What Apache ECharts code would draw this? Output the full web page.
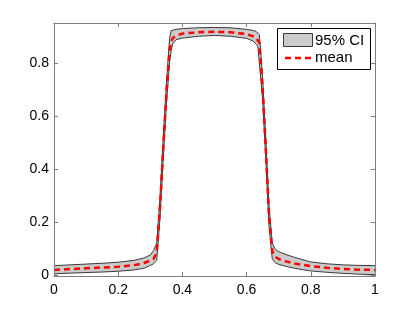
<!DOCTYPE html>
<html>
<head>
<meta charset="utf-8">
<script src="https://cdn.jsdelivr.net/npm/echarts@6/dist/echarts.min.js"></script>
<style>
html,body{margin:0;padding:0;background:#fff;}
#chart{width:415px;height:312px;}
</style>
</head>
<body>
<div id="chart"></div>
<script>
var xs =    [0, 0.05, 0.10, 0.15, 0.20, 0.25, 0.28, 0.30, 0.31, 0.32, 0.33, 0.34, 0.35, 0.36, 0.365, 0.37, 0.38, 0.40, 0.45, 0.50, 0.55, 0.60, 0.62, 0.63, 0.635, 0.64, 0.65, 0.66, 0.67, 0.68, 0.69, 0.70, 0.72, 0.75, 0.80, 0.85, 0.90, 0.95, 1.00];
var meanVals = [0.019,0.022,0.025,0.028,0.031,0.037,0.045,0.054,0.060,0.085,0.25,0.47,0.68,0.85,0.88,0.893,0.902,0.910,0.915,0.917,0.915,0.908,0.900,0.893,0.888,0.875,0.70,0.47,0.22,0.090,0.068,0.060,0.052,0.043,0.033,0.027,0.023,0.020,0.019];
var upperVals = [0.035,0.038,0.041,0.044,0.048,0.055,0.064,0.075,0.092,0.12,0.29,0.51,0.72,0.89,0.921,0.923,0.926,0.929,0.932,0.933,0.932,0.926,0.922,0.918,0.912,0.905,0.74,0.51,0.26,0.12,0.095,0.088,0.078,0.066,0.049,0.042,0.038,0.036,0.035];
var lowerVals = [0.004,0.007,0.009,0.011,0.014,0.019,0.025,0.036,0.042,0.055,0.21,0.43,0.64,0.80,0.845,0.872,0.887,0.893,0.900,0.903,0.900,0.892,0.882,0.870,0.862,0.855,0.66,0.43,0.18,0.060,0.045,0.040,0.033,0.025,0.015,0.010,0.006,0.003,0.001];
var xTicks = [0, 0.2, 0.4, 0.6, 0.8, 1];
var yTicks = [0, 0.2, 0.4, 0.6, 0.8];
var legendLabels = ['95% CI', 'mean'];

function pairs(vals){ return xs.map(function(x,i){ return [x, vals[i]]; }); }

var FONT = '"Liberation Sans", Arial, Helvetica, sans-serif';
var axisColor = '#7f7f7f';
var chart = echarts.init(document.getElementById('chart'), null, {renderer:'canvas'});
var commonX = {
  type:'value', min:0, max:1, interval:0.2, z:10,
  axisLine:{show:true, onZero:false, lineStyle:{color:axisColor, width:1}},
  axisTick:{show:true, inside:true, length:4, lineStyle:{color:axisColor}},
  splitLine:{show:false}
};
var commonY = {
  type:'value', min:-0.004, max:0.95, z:10,
  axisLine:{show:true, onZero:false, lineStyle:{color:axisColor, width:1}},
  axisTick:{show:true, inside:true, length:4, lineStyle:{color:axisColor}},
  splitLine:{show:false}
};
var option = {
  animation:false,
  backgroundColor:'#fff',
  grid:{left:54, right:40, top:23, bottom:36, containLabel:false},
  xAxis:[
    Object.assign({}, commonX, {position:'bottom',
      axisLabel:{show:true, color:'#000', fontSize:14, fontFamily:FONT, margin:7,
        formatter:function(v){ return xTicks.indexOf(+v.toFixed(2))>=0 ? String(+v.toFixed(2)) : ''; }}}),
    Object.assign({}, commonX, {position:'top', axisLabel:{show:false}})
  ],
  yAxis:[
    Object.assign({}, commonY, {position:'left',
      axisTick:{show:true, inside:true, length:4, lineStyle:{color:axisColor}, customValues:yTicks},
      axisLabel:{show:true, color:'#000', fontSize:14, fontFamily:FONT, margin:5, customValues:yTicks,
        formatter:function(v){ return String(+v.toFixed(2)); }}}),
    Object.assign({}, commonY, {position:'right',
      axisTick:{show:true, inside:true, length:4, lineStyle:{color:axisColor}, customValues:yTicks},
      axisLabel:{show:false}})
  ],
  series:[
    {type:'line', name:'upper', data:pairs(upperVals), symbol:'none', z:2,
     lineStyle:{color:'#3a3a3a', width:1},
     areaStyle:{color:'#cbcbcb', opacity:1, origin:'start'}},
    {type:'line', name:'lower', data:pairs(lowerVals), symbol:'none', z:2,
     lineStyle:{color:'#3a3a3a', width:1},
     areaStyle:{color:'#ffffff', opacity:1, origin:'start'}},
    {type:'line', name:'mean', data:pairs(meanVals), symbol:'none', z:4,
     lineStyle:{color:'#ff0000', width:2.5, type:[6,4]}}
  ],
  graphic:[
    {type:'rect', z:20, shape:{x:277.5, y:28.5, width:93, height:41}, style:{fill:'#fff', stroke:'#000', lineWidth:1}},
    {type:'rect', z:21, shape:{x:283.5, y:33.5, width:29, height:13}, style:{fill:'#cbcbcb', stroke:'#3a3a3a', lineWidth:1}},
    {type:'text', z:21, x:315, y:40.5, style:{text:legendLabels[0], fill:'#000', font:'15px '+FONT, textVerticalAlign:'middle'}},
    {type:'line', z:21, shape:{x1:285, y1:58, x2:313, y2:58}, style:{stroke:'#ff0000', lineWidth:2.5, lineDash:[6,4]}},
    {type:'text', z:21, x:315, y:57.5, style:{text:legendLabels[1], fill:'#000', font:'15px '+FONT, textVerticalAlign:'middle'}}
  ]
};
chart.setOption(option);
</script>
</body>
</html>
